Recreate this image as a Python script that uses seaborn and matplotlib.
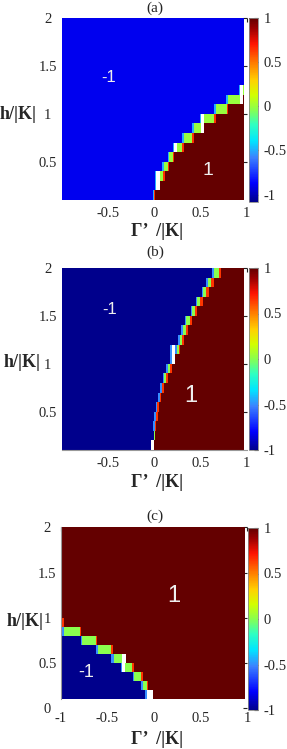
import numpy as np
import pandas as pd
import matplotlib
matplotlib.use("Agg")
import matplotlib.pyplot as plt
from matplotlib.colors import LinearSegmentedColormap
import seaborn as sns

# values used inside the rows below
LB = -0.5      # bluish edge cell
W = np.nan     # missing point (left white)
GR = 0.0       # green, gap closing
RD = 0.65      # reddish edge cell
HI = 1.0       # the +1 phase

# h of each 0.1 strip (bottom edge), read bottom -> top
h_rows = [0.1, 0.2, 0.3, 0.4, 0.5, 0.6, 0.7, 0.8, 0.9, 1.0,
          1.1, 1.2, 1.3, 1.4, 1.5, 1.6, 1.7, 1.8, 1.9]

# one list per strip: (Gamma' where a segment starts, value);
# left of the first segment the strip has the low phase value
rows_a = [
    [(-0.01, LB), (0.005, RD), (0.015, HI)],
    [(0.013, LB), (0.027, W), (0.063, HI)],
    [(0.013, LB), (0.027, W), (0.063, GR), (0.1, RD), (0.113, HI)],
    [(0.092, LB), (0.106, GR), (0.153, RD), (0.167, HI)],
    [(0.149, LB), (0.164, GR), (0.207, RD), (0.22, HI)],
    [(0.2, LB), (0.214, W), (0.25, GR), (0.305, RD), (0.32, HI)],
    [(0.305, LB), (0.322, GR), (0.413, RD), (0.43, HI)],
    [(0.413, LB), (0.43, GR), (0.51, W), (0.546, HI)],
    [(0.495, LB), (0.51, W), (0.546, GR), (0.647, RD), (0.665, HI)],
    [(0.647, LB), (0.665, GR), (0.791, RD), (0.805, HI)],
    [(0.78, LB), (0.795, GR), (0.927, W), (0.964, HI)],
    [(0.92, LB), (0.935, W), (0.964, GR)],
    [], [], [], [], [], [], [],
]
rows_b = [
    [(-0.028, W), (0.004, HI)],
    [(-0.003, GR), (0.015, HI)],
    [(-0.01, LB), (0.008, RD), (0.026, HI)],
    [(0.004, LB), (0.023, RD), (0.04, HI)],
    [(0.018, LB), (0.037, RD), (0.055, HI)],
    [(0.04, LB), (0.058, RD), (0.077, HI)],
    [(0.069, LB), (0.087, RD), (0.105, HI)],
    [(0.094, LB), (0.112, GR), (0.131, RD), (0.148, HI)],
    [(0.127, LB), (0.148, GR), (0.17, RD), (0.191, HI)],
    [(0.17, LB), (0.188, W), (0.231, HI)],
    [(0.17, LB), (0.188, W), (0.231, LB), (0.25, GR), (0.267, RD), (0.285, HI)],
    [(0.26, LB), (0.285, GR), (0.303, RD), (0.321, HI)],
    [(0.293, LB), (0.314, GR), (0.343, RD), (0.365, HI)],
    [(0.329, LB), (0.35, GR), (0.386, RD), (0.408, HI)],
    [(0.394, LB), (0.415, GR), (0.444, RD), (0.466, HI)],
    [(0.448, LB), (0.466, GR), (0.502, RD), (0.523, HI)],
    [(0.516, LB), (0.534, GR), (0.566, RD), (0.588, HI)],
    [(0.566, LB), (0.581, GR), (0.62, RD), (0.645, HI)],
    [(0.631, LB), (0.649, GR), (0.7, RD), (0.725, HI)],
]
rows_c = [
    [(-0.1, LB), (-0.075, W), (-0.01, HI)],
    [(-0.135, LB), (-0.113, GR), (-0.077, RD), (-0.062, HI)],
    [(-0.232, LB), (-0.213, GR), (-0.136, RD), (-0.116, HI)],
    [(-0.36, LB), (-0.346, W), (-0.31, GR), (-0.235, RD), (-0.218, HI)],
    [(-0.464, LB), (-0.436, GR), (-0.346, W), (-0.303, HI)],
    [(-0.626, LB), (-0.601, GR), (-0.458, RD), (-0.444, HI)],
    [(-0.788, LB), (-0.77, GR), (-0.626, RD), (-0.609, HI)],
    [(-0.997, LB), (-0.968, GR), (-0.795, RD), (-0.78, HI)],
    [(-1.0, RD), (-0.97, HI)],
    [(-1.0, HI)], [(-1.0, HI)], [(-1.0, HI)], [(-1.0, HI)], [(-1.0, HI)],
    [(-1.0, HI)], [(-1.0, HI)], [(-1.0, HI)], [(-1.0, HI)], [(-1.0, HI)],
]
low_vals = [-0.9, -1.0, -1.0]
cb_min = [-1.08, -1.0, -1.0]

# labels written on the maps: (text, Gamma', h, size)
notes_a = [("-1", -0.49, 1.38, 12), ("1", 0.58, 0.41, 14)]
notes_b = [("-1", -0.48, 1.57, 12), ("1", 0.40, 0.66, 17)]
notes_c = [("-1", -0.73, 0.40, 13), ("1", 0.21, 1.24, 17)]

x_ticks_ab = [-0.5, 0, 0.5, 1]
x_ticks_c = [-1, -0.5, 0, 0.5, 1]
y_ticks_ab = [0.5, 1, 1.5, 2]
y_ticks_c = [0, 0.5, 1, 1.5, 2]
cb_ticks = [-1, -0.5, 0, 0.5, 1]

x0, x_end, dx, dh = -1.0, 0.975, 0.005, 0.1
x_cent = np.arange(x0, x_end - 1e-9, dx) + dx / 2


def build(rows, low):
    grid = []
    for segs in rows:
        v = np.full(len(x_cent), float(low))
        for xs, val in segs:
            v[x_cent >= xs] = val
        grid.append(v)
    # heatmap draws the first row at the top
    return pd.DataFrame(grid[::-1], index=h_rows[::-1], columns=np.round(x_cent, 4))


def xpos(v):
    return (v - x0) / dx


def ypos(h):
    return (2.0 - h) / dh


cmap = LinearSegmentedColormap.from_list("gp", [
    (0.0, "#00008c"), (0.1, "#0000ff"), (0.24, "#3c82ff"), (0.33, "#00e6ff"),
    (0.42, "#30ffc0"), (0.5, "#88ff50"), (0.58, "#d2ff00"), (0.66, "#ffd200"),
    (0.76, "#ff7800"), (0.86, "#ff1400"), (0.94, "#a00000"), (1.0, "#640000")])

sns.set_style("white")
plt.rcParams["font.family"] = ["Liberation Serif", "DejaVu Serif"]

WP, HP = 287, 749
fig = plt.figure(figsize=(WP / 100, HP / 100), dpi=100)


def rect(l, t, r, b):
    return [l / WP, 1 - b / HP, (r - l) / WP, (b - t) / HP]


panels = [
    dict(rows=rows_a, ax=rect(61.5, 18, 246.5, 200), cax=rect(249, 18, 258, 201.7),
         title="(a)", ty=1.055, notes=notes_a, xt=x_ticks_ab, yt=y_ticks_ab,
         hmin=0.1, xpad=5, xl=(0.518, -0.174), yl=(-0.236, 0.4725)),
    dict(rows=rows_b, ax=rect(61.5, 268, 246.5, 450), cax=rect(249, 268, 258, 450),
         title="(b)", ty=1.088, notes=notes_b, xt=x_ticks_ab, yt=y_ticks_ab,
         hmin=0.1, xpad=5, xl=(0.518, -0.176), yl=(-0.214, 0.4835)),
    dict(rows=rows_c, ax=rect(61, 527.3, 247, 708.3), cax=rect(248, 528, 258, 710),
         title="(c)", ty=1.062, notes=notes_c, xt=x_ticks_c, yt=y_ticks_c,
         hmin=0.0, xpad=2.8, xl=(0.518, -0.17), yl=(-0.194, 0.482)),
]

for i, p in enumerate(panels):
    ax = fig.add_axes(p["ax"])
    cax = fig.add_axes(p["cax"])
    df = build(p["rows"], low_vals[i])
    sns.heatmap(df, ax=ax, cbar_ax=cax, cmap=cmap, vmin=cb_min[i], vmax=1,
                xticklabels=False, yticklabels=False,
                cbar_kws={"ticks": cb_ticks})

    ax.set_xlim(0, xpos(1.0))
    ax.set_ylim(ypos(p["hmin"]), 0)
    ax.set_xticks([xpos(v) for v in p["xt"]])
    ax.set_xticklabels([f"{v:g}" for v in p["xt"]])
    ax.set_yticks([ypos(v) for v in p["yt"]])
    ax.set_yticklabels([f"{v:g}" for v in p["yt"]], ha="center", rotation=0)
    ax.tick_params(direction="in", length=3, width=0.8, color="#222222",
                   top=True, right=True, labelsize=10.5)
    ax.tick_params(axis="x", pad=p["xpad"])
    ax.tick_params(axis="y", pad=9.8)

    ax.set_xlabel("Γ’  /|K|", fontsize=13, fontweight="bold")
    ax.xaxis.set_label_coords(*p["xl"])
    ax.xaxis.label.set_va("center")
    ax.set_ylabel("h/|K|", fontsize=13, fontweight="bold", rotation=0,
                  ha="center", va="center")
    ax.yaxis.set_label_coords(*p["yl"])
    ax.text(0.507, p["ty"], p["title"], transform=ax.transAxes,
            ha="center", va="center", fontsize=11)

    for txt, gx, gh, fs in p["notes"]:
        ax.text(xpos(gx), ypos(gh), txt, ha="center", va="center",
                color="#eeeeee", fontsize=fs, family="Liberation Sans")

    cb = ax.collections[0].colorbar
    cb.set_ticklabels([f"{v:g}" for v in cb_ticks])
    cb.outline.set_linewidth(0.6)
    cb.outline.set_edgecolor("#888888")
    cax.tick_params(direction="in", length=3, width=0.8, color="#222222",
                    labelsize=10.5, pad=4)

# grey frame bits visible in the original
axes = fig.axes[0::2]
axes[1].spines["bottom"].set_visible(True)
axes[1].spines["bottom"].set_color("#999999")
axes[2].spines["left"].set_visible(True)
axes[2].spines["left"].set_color("#999999")
axes[2].spines["left"].set_bounds(ypos(0.1), ypos(2.0))

fig.savefig("out.png", dpi=100)
